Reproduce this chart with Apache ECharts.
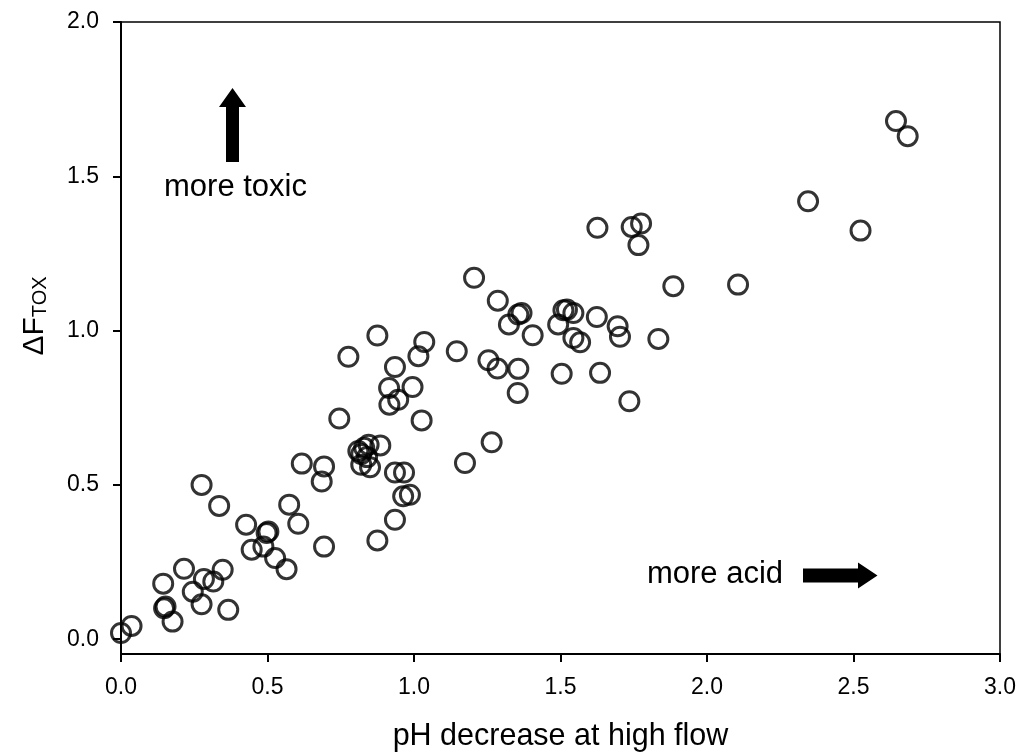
<!DOCTYPE html>
<html>
<head>
<meta charset="utf-8">
<script src="https://cdn.jsdelivr.net/npm/echarts@6/dist/echarts.min.js"></script>
<style>
  html, body { margin: 0; padding: 0; background: #fff; }
  #chart { width: 1019px; height: 752px; }
</style>
</head>
<body>
<div id="chart"></div>
<script>
// pH decrease at high flow (x) vs delta F_TOX (y)
var phDrop = [
  0.00, 0.036, 0.144, 0.147, 0.152, 0.176, 0.215, 0.245, 0.275, 0.283, 0.315, 0.347, 0.366, 0.275,
  0.335, 0.427, 0.446, 0.486, 0.497, 0.503, 0.526, 0.565, 0.574, 0.605, 0.617, 0.693, 0.685, 0.693,
  0.875, 0.935, 0.963, 0.986, 0.935, 0.966, 0.745, 1.026, 1.174, 1.265,
  0.81, 0.82, 0.83, 0.845, 0.84, 0.885, 0.82, 0.85,
  0.776, 0.875, 0.935, 1.035, 1.015, 0.915, 0.995, 0.916, 0.946,
  1.146, 1.254, 1.285, 1.356, 1.354,
  1.205, 1.286, 1.324, 1.356, 1.367, 1.405,
  1.51, 1.522, 1.544, 1.492, 1.624, 1.695, 1.703, 1.544, 1.567, 1.834, 1.504, 1.635, 1.735,
  1.626, 1.743, 1.775, 1.766, 1.885, 2.106, 2.345, 2.524, 2.645, 2.685
];
var dFtox = [
  0.02, 0.043, 0.18, 0.10, 0.106, 0.057, 0.228, 0.154, 0.113, 0.195, 0.187, 0.225, 0.095, 0.50,
  0.432, 0.371, 0.29, 0.30, 0.344, 0.349, 0.263, 0.227, 0.436, 0.374, 0.569, 0.56, 0.511, 0.30,
  0.32, 0.387, 0.463, 0.468, 0.54, 0.54, 0.715, 0.709, 0.571, 0.638,
  0.61, 0.60, 0.62, 0.63, 0.59, 0.628, 0.565, 0.557,
  0.915, 0.984, 0.882, 0.963, 0.917, 0.814, 0.817, 0.76, 0.776,
  0.933, 0.904, 0.877, 0.876, 0.798,
  1.171, 1.097, 1.02, 1.052, 1.057, 0.985,
  1.066, 1.068, 1.057, 1.02, 1.044, 1.014, 0.98, 0.976, 0.962, 0.973, 0.86, 0.863, 0.771,
  1.333, 1.336, 1.347, 1.277, 1.144, 1.149, 1.419, 1.324, 1.679, 1.63
];
var yTicks = [0, 0.5, 1.0, 1.5, 2.0];

var points = phDrop.map(function (x, i) { return [x, dFtox[i]]; });
var font = 'Liberation Sans, Arial, sans-serif';

var chart = echarts.init(document.getElementById('chart'));
chart.setOption({
  animation: false,
  backgroundColor: '#fff',
  grid: {
    left: 121, top: 22, right: 19, bottom: 98,
    outerBoundsMode: 'none', containLabel: false,
    show: true, borderColor: '#000', borderWidth: 1.5, backgroundColor: 'transparent'
  },
  xAxis: {
    type: 'value', min: 0, max: 3, interval: 0.5,
    name: 'pH decrease at high flow',
    nameLocation: 'middle', nameGap: 67,
    nameTextStyle: { fontFamily: font, fontSize: 30.5, color: '#000' },
    splitLine: { show: false },
    axisLine: { onZero: false, lineStyle: { color: '#000', width: 2 } },
    axisTick: { inside: false, length: 8, lineStyle: { color: '#000', width: 2 } },
    axisLabel: {
      margin: 22, fontFamily: font, fontSize: 23, color: '#000',
      formatter: function (v) { return v.toFixed(1); }
    }
  },
  yAxis: {
    type: 'value', min: -0.048, max: 2.0,
    splitLine: { show: false },
    axisLine: { onZero: false, lineStyle: { color: '#000', width: 2 } },
    axisTick: { inside: false, length: 8, customValues: yTicks, lineStyle: { color: '#000', width: 2 } },
    axisLabel: {
      margin: 22, fontFamily: font, fontSize: 23, color: '#000', customValues: yTicks,
      formatter: function (v) { return v.toFixed(1); }
    }
  },
  graphic: [
    {
      type: 'text', x: 35, y: 316, rotation: Math.PI / 2,
      style: {
        text: '{a|ΔF}{s|TOX}', align: 'center', verticalAlign: 'middle',
        rich: {
          a: { fontFamily: font, fontSize: 30, fill: '#000' },
          s: { fontFamily: font, fontSize: 20, fill: '#000', verticalAlign: 'bottom', padding: [10, 0, 0, 0] }
        }
      }
    },
    {
      type: 'text', x: 235.5, y: 187,
      style: { text: 'more toxic', fontFamily: font, fontSize: 31, fill: '#000', align: 'center', verticalAlign: 'middle' }
    },
    {
      type: 'polygon',
      shape: { points: [[232.5, 88], [246, 107], [239, 107], [239, 162], [226, 162], [226, 107], [219, 107]] },
      style: { fill: '#000' }
    },
    {
      type: 'text', x: 715, y: 574,
      style: { text: 'more acid', fontFamily: font, fontSize: 31, fill: '#000', align: 'center', verticalAlign: 'middle' }
    },
    {
      type: 'polygon',
      shape: { points: [[803, 568.5], [858, 568.5], [858, 562.5], [877.5, 575.5], [858, 588.5], [858, 582.5], [803, 582.5]] },
      style: { fill: '#000' }
    }
  ],
  series: [{
    type: 'scatter',
    data: points,
    symbol: 'circle',
    symbolSize: 19,
    itemStyle: { color: 'rgba(0,0,0,0)', borderColor: '#000', borderWidth: 3 },
    emphasis: { disabled: true }
  }]
});
</script>
</body>
</html>
